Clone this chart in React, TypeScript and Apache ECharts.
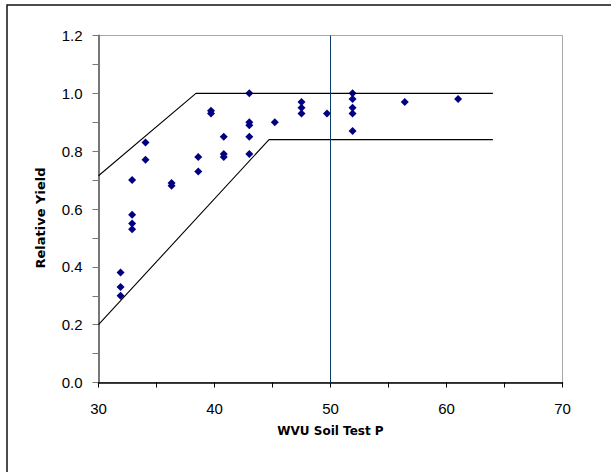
import React, { useEffect, useRef } from "react";
import * as echarts from "echarts";

const soilTestP = [
  31.9, 31.9, 31.9, 32.9, 32.9, 32.9, 32.9, 34.05, 34.05, 36.3, 36.3, 38.6, 38.6,
  39.7, 39.7, 40.8, 40.8, 40.8, 43, 43, 43, 43, 43, 45.2, 47.5, 47.5, 47.5, 49.7,
  51.9, 51.9, 51.9, 51.9, 51.9, 56.4, 61,
];
const relativeYield = [
  0.38, 0.33, 0.3, 0.7, 0.58, 0.55, 0.53, 0.83, 0.77, 0.69, 0.68, 0.78, 0.73,
  0.94, 0.93, 0.85, 0.79, 0.78, 1.0, 0.9, 0.89, 0.85, 0.79, 0.9, 0.97, 0.95, 0.93, 0.93,
  1.0, 0.98, 0.95, 0.93, 0.87, 0.97, 0.98,
];
const upperX = [30, 38.4, 64];
const upperY = [0.715, 1.0, 1.0];
const lowerX = [30, 44.7, 64];
const lowerY = [0.2, 0.84, 0.84];
const criticalX = [50, 50];
const criticalY = [0, 1.2];

const xAxisName = "WVU Soil Test P";
const yAxisName = "Relative Yield";

const zip = (xs: number[], ys: number[]) => xs.map((x, i) => [x, ys[i]]);

export default function App() {
  const ref = useRef<HTMLDivElement>(null);
  useEffect(() => {
    if (!ref.current) return;
    const chart = echarts.init(ref.current, null, { renderer: "svg" });
    const labelFont = { fontFamily: "Liberation Sans, Arial, sans-serif", fontSize: 15, color: "#000" };
    chart.setOption({
      animation: false,
      backgroundColor: "#fff",
      grid: {
        left: 98.5,
        right: 48.5,
        top: 35.5,
        bottom: 89.5,
        show: true,
        borderColor: "#a8a8a8",
        borderWidth: 1,
        backgroundColor: "transparent",
      },
      graphic: [
        {
          type: "rect",
          shape: { x: 7, y: 5, width: 800, height: 700 },
          style: { fill: "none", stroke: "#111", lineWidth: 1.5 },
          silent: true,
        },
      ],
      xAxis: {
        type: "value",
        min: 30,
        max: 70,
        interval: 5,
        name: xAxisName,
        nameLocation: "middle",
        nameGap: 42,
        nameTextStyle: {
          fontFamily: "DejaVu Sans",
          fontWeight: "bold",
          fontSize: 12,
          color: "#000",
        },
        axisLine: { onZero: false, lineStyle: { color: "#000", width: 1.5 } },
        axisTick: { inside: false, length: 5, lineStyle: { color: "#000", width: 1 } },
        axisLabel: {
          ...labelFont,
          margin: 18,
          formatter: (v: number) => (Math.round(v) % 10 === 0 ? String(Math.round(v)) : ""),
        },
        splitLine: { show: false },
      },
      yAxis: {
        type: "value",
        min: 0,
        max: 1.2,
        interval: 0.1,
        name: yAxisName,
        nameLocation: "middle",
        nameGap: 52,
        nameTextStyle: {
          fontFamily: "DejaVu Sans",
          fontWeight: "bold",
          fontSize: 13,
          color: "#000",
          padding: [0, 18, 0, 0],
        },
        axisLine: { onZero: false, lineStyle: { color: "#777", width: 2 } },
        axisTick: { inside: false, length: 6, lineStyle: { color: "#777", width: 1 } },
        axisLabel: {
          ...labelFont,
          margin: 16,
          formatter: (v: number) => {
            const r = Math.round(v * 10);
            return r % 2 === 0 ? (r / 10).toFixed(1) : "";
          },
        },
        splitLine: { show: false },
      },
      series: [
        {
          type: "line",
          data: zip(upperX, upperY),
          symbol: "none",
          silent: true,
          lineStyle: { color: "#000", width: 1.1 },
        },
        {
          type: "line",
          data: zip(lowerX, lowerY),
          symbol: "none",
          silent: true,
          lineStyle: { color: "#000", width: 1.1 },
        },
        {
          type: "line",
          data: zip(criticalX, criticalY),
          symbol: "none",
          silent: true,
          lineStyle: { color: "#0b3d6b", width: 1 },
        },
        {
          type: "scatter",
          data: zip(soilTestP, relativeYield),
          symbol: "diamond",
          symbolSize: 8,
          itemStyle: { color: "#000080", opacity: 1 },
        },
      ],
    });
    return () => chart.dispose();
  }, []);
  return (
    <div
      ref={ref}
      style={{ position: "absolute", left: 0, top: 0, width: 611, height: 472 }}
    />
  );
}
